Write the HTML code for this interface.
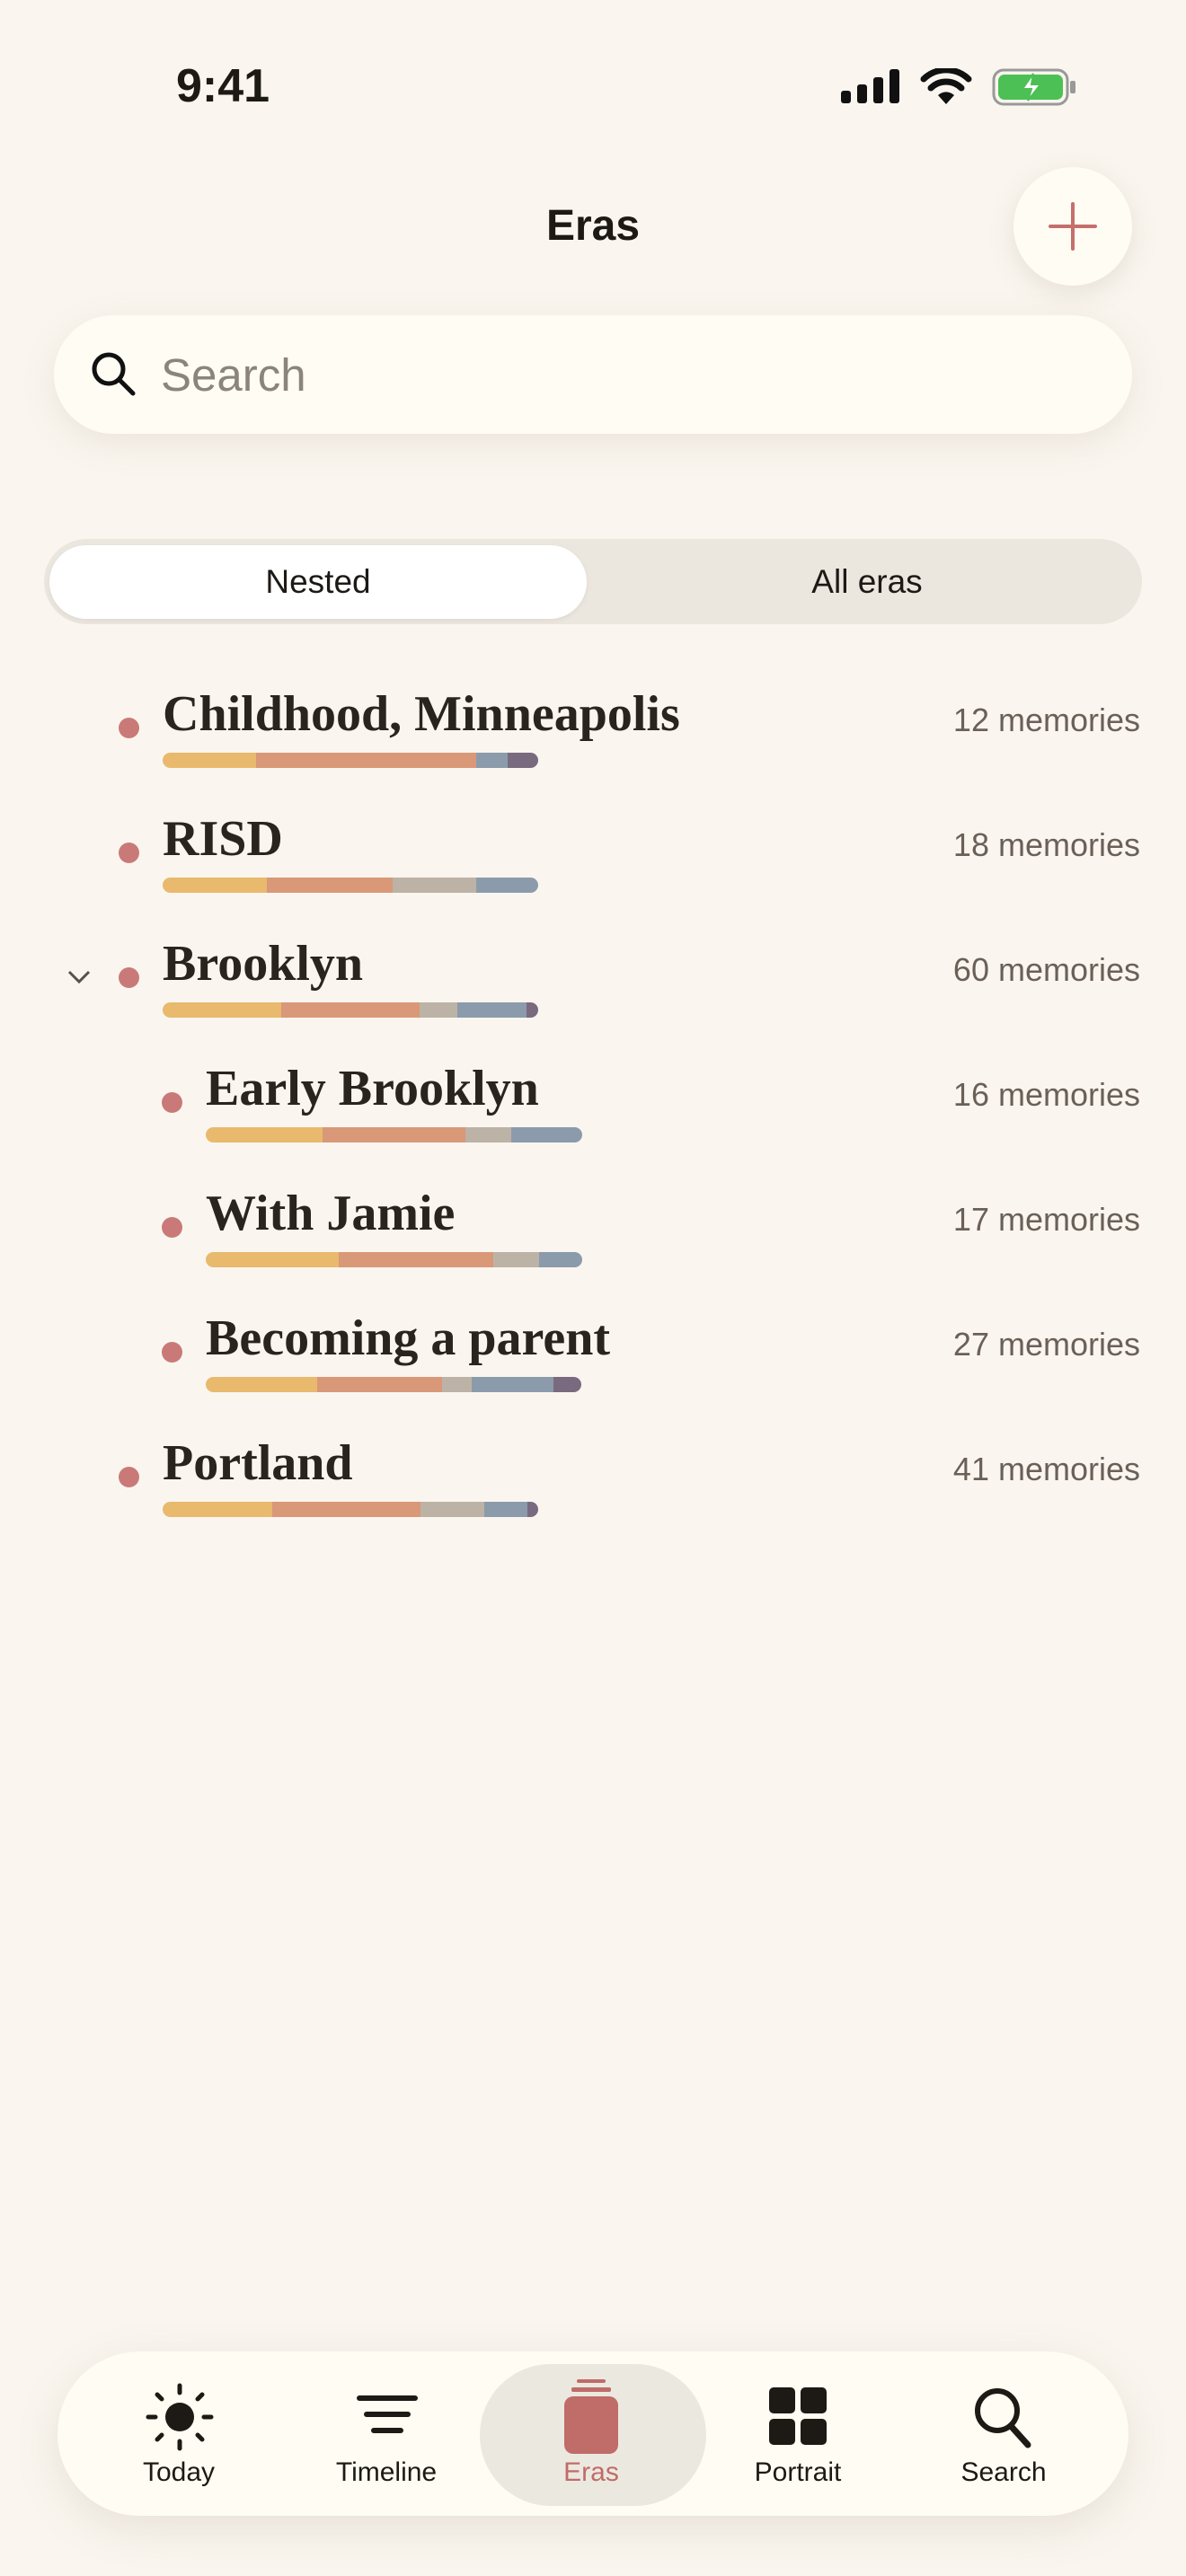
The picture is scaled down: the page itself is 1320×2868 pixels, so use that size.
<!DOCTYPE html>
<html><head><meta charset="utf-8"><style>
*{margin:0;padding:0;box-sizing:border-box}
body{width:1320px;height:2868px;background:#faf6ef;position:relative;overflow:hidden;font-family:"Liberation Sans",sans-serif;color:#1d1a15}
.a{position:absolute;white-space:nowrap}
.t{font-family:"Liberation Serif",serif;font-size:56px;line-height:56px;color:#2a241e;font-weight:700}
.m{font-size:36px;line-height:36px;color:#6b6058;right:51px}
.dot{position:absolute;width:23px;height:23px;border-radius:50%;background:#c97a78}
.bar{position:absolute;height:17px;border-radius:9px;overflow:hidden;display:flex}
.bar i{display:block;height:100%}
.y{background:#e9b96e}.o{background:#d99878}.b{background:#bcb3a6}.u{background:#8b9bab}.p{background:#7a6a80}
.lab{font-size:30px;line-height:30px;top:2738px;transform:translateX(-50%);font-weight:500}
</style></head><body>
<div class="a" style="left:196px;top:70px;font-size:52px;line-height:52px;font-weight:700">9:41</div>
<svg class="a" style="left:936px;top:77px" width="66" height="38"><rect x="0" y="24" width="11" height="14" rx="3" fill="#111"/><rect x="18" y="17" width="11" height="21" rx="3" fill="#111"/><rect x="36" y="9" width="11" height="29" rx="3" fill="#111"/><rect x="54" y="0" width="11" height="38" rx="3" fill="#111"/></svg>
<svg class="a" style="left:1024px;top:76px" width="58" height="40" viewBox="0 0 58 40"><path d="M29 40 L20 30 A13 13 0 0 1 38 30 Z" fill="#111"/><path d="M12 22 A24 24 0 0 1 46 22" stroke="#111" stroke-width="7" fill="none" stroke-linecap="round"/><path d="M4 12 A36 36 0 0 1 54 12" stroke="#111" stroke-width="7" fill="none" stroke-linecap="round"/></svg>
<svg class="a" style="left:1104px;top:76px" width="94" height="42"><rect x="2" y="2" width="82" height="38" rx="11" fill="none" stroke="#999" stroke-width="3"/><rect x="7" y="7" width="72" height="28" rx="7" fill="#4cc054"/><rect x="87" y="14" width="6" height="14" rx="2" fill="#999"/><path d="M46 6 L34 23 H44 L40 36 L54 18 H44 Z" fill="#fff" stroke="#4cc054" stroke-width="2"/></svg>
<div class="a" style="left:0;width:1320px;text-align:center;top:228px;font-size:48px;line-height:48px;font-weight:600">Eras</div>
<div class="a" style="left:1128px;top:186px;width:132px;height:132px;border-radius:50%;background:#fffcf3;box-shadow:0 8px 30px rgba(120,100,70,.15)"></div>
<svg class="a" style="left:1166px;top:224px" width="56" height="56"><path d="M28 3V53M3 28H53" stroke="#c56f6c" stroke-width="4" stroke-linecap="round"/></svg>
<div class="a" style="left:60px;top:351px;width:1200px;height:132px;border-radius:66px;background:#fffcf3;box-shadow:0 10px 40px rgba(120,100,70,.12)"></div>
<svg class="a" style="left:100px;top:390px" width="52" height="52"><circle cx="21" cy="21" r="16" stroke="#111" stroke-width="5" fill="none"/><path d="M33 33L48 48" stroke="#111" stroke-width="5" stroke-linecap="round"/></svg>
<div class="a" style="left:179px;top:392px;font-size:51px;line-height:51px;color:#8a847c">Search</div>
<div class="a" style="left:49px;top:600px;width:1222px;height:95px;border-radius:48px;background:#ebe7df"></div>
<div class="a" style="left:55px;top:607px;width:598px;height:82px;border-radius:41px;background:#fff;box-shadow:0 2px 6px rgba(0,0,0,.06)"></div>
<div class="a" style="left:55px;width:598px;text-align:center;top:629px;font-size:37px;line-height:37px;font-weight:500">Nested</div>
<div class="a" style="left:660px;width:610px;text-align:center;top:629px;font-size:37px;line-height:37px">All eras</div>

<div class="dot" style="left:132px;top:799px"></div>
<div class="a t" style="left:181px;top:767px">Childhood, Minneapolis</div>
<div class="a m" style="top:784px">12 memories</div>
<div class="bar" style="left:181px;top:838px"><i class="y" style="width:104px"></i><i class="o" style="width:245px"></i><i class="u" style="width:35px"></i><i class="p" style="width:34px"></i></div>

<div class="dot" style="left:132px;top:938px"></div>
<div class="a t" style="left:181px;top:906px">RISD</div>
<div class="a m" style="top:923px">18 memories</div>
<div class="bar" style="left:181px;top:977px"><i class="y" style="width:116px"></i><i class="o" style="width:140px"></i><i class="b" style="width:93px"></i><i class="u" style="width:69px"></i></div>

<svg class="a" style="left:75px;top:1080px" width="26" height="16"><path d="M2 2L13 13L24 2" stroke="#5a5048" stroke-width="3" fill="none"/></svg>
<div class="dot" style="left:132px;top:1077px"></div>
<div class="a t" style="left:181px;top:1045px">Brooklyn</div>
<div class="a m" style="top:1062px">60 memories</div>
<div class="bar" style="left:181px;top:1116px"><i class="y" style="width:132px"></i><i class="o" style="width:154px"></i><i class="b" style="width:42px"></i><i class="u" style="width:77px"></i><i class="p" style="width:13px"></i></div>

<div class="dot" style="left:180px;top:1216px"></div>
<div class="a t" style="left:229px;top:1184px">Early Brooklyn</div>
<div class="a m" style="top:1201px">16 memories</div>
<div class="bar" style="left:229px;top:1255px"><i class="y" style="width:130px"></i><i class="o" style="width:159px"></i><i class="b" style="width:51px"></i><i class="u" style="width:79px"></i></div>

<div class="dot" style="left:180px;top:1355px"></div>
<div class="a t" style="left:229px;top:1323px">With Jamie</div>
<div class="a m" style="top:1340px">17 memories</div>
<div class="bar" style="left:229px;top:1394px"><i class="y" style="width:148px"></i><i class="o" style="width:172px"></i><i class="b" style="width:51px"></i><i class="u" style="width:48px"></i></div>

<div class="dot" style="left:180px;top:1494px"></div>
<div class="a t" style="left:229px;top:1462px">Becoming a parent</div>
<div class="a m" style="top:1479px">27 memories</div>
<div class="bar" style="left:229px;top:1533px"><i class="y" style="width:124px"></i><i class="o" style="width:139px"></i><i class="b" style="width:33px"></i><i class="u" style="width:91px"></i><i class="p" style="width:31px"></i></div>

<div class="dot" style="left:132px;top:1633px"></div>
<div class="a t" style="left:181px;top:1601px">Portland</div>
<div class="a m" style="top:1618px">41 memories</div>
<div class="bar" style="left:181px;top:1672px"><i class="y" style="width:122px"></i><i class="o" style="width:165px"></i><i class="b" style="width:71px"></i><i class="u" style="width:48px"></i><i class="p" style="width:12px"></i></div>

<div class="a" style="left:64px;top:2618px;width:1192px;height:183px;border-radius:92px;background:#fffcf3;box-shadow:0 14px 50px rgba(120,100,70,.14)"></div>
<div class="a" style="left:534px;top:2632px;width:252px;height:158px;border-radius:79px;background:#ebe9df"></div>
<svg class="a" style="left:162px;top:2653px" width="76" height="76" viewBox="0 0 76 76"><circle cx="38" cy="38" r="16" fill="#1d1a15"/><g stroke="#1d1a15" stroke-width="5" stroke-linecap="round"><path d="M38 3V11M38 65V73M3 38H11M65 38H73M13 13L18 18M58 58L63 63M13 63L18 58M58 18L63 13"/></g></svg>
<svg class="a" style="left:396px;top:2664px" width="70" height="48"><g stroke="#1d1a15" stroke-width="6" stroke-linecap="round"><path d="M4 6H66M12 24H58M20 42H50"/></g></svg>
<svg class="a" style="left:626px;top:2648px" width="66" height="86"><rect x="2" y="20" width="60" height="64" rx="10" fill="#c06c69"/><rect x="10" y="10" width="44" height="5" rx="2" fill="#c06c69"/><rect x="16" y="1" width="32" height="4" rx="2" fill="#c06c69"/></svg>
<svg class="a" style="left:856px;top:2658px" width="66" height="66"><g fill="#1d1a15"><rect x="0" y="0" width="29" height="29" rx="5"/><rect x="35" y="0" width="29" height="29" rx="5"/><rect x="0" y="35" width="29" height="29" rx="5"/><rect x="35" y="35" width="29" height="29" rx="5"/></g></svg>
<svg class="a" style="left:1082px;top:2656px" width="70" height="72"><circle cx="28" cy="28" r="22" stroke="#1d1a15" stroke-width="6" fill="none"/><path d="M44 46L62 66" stroke="#1d1a15" stroke-width="7" stroke-linecap="round"/></svg>
<div class="a lab" style="left:199px">Today</div>
<div class="a lab" style="left:430px">Timeline</div>
<div class="a lab" style="left:658px;color:#c06c69">Eras</div>
<div class="a lab" style="left:888px">Portrait</div>
<div class="a lab" style="left:1117px">Search</div>
</body></html>
